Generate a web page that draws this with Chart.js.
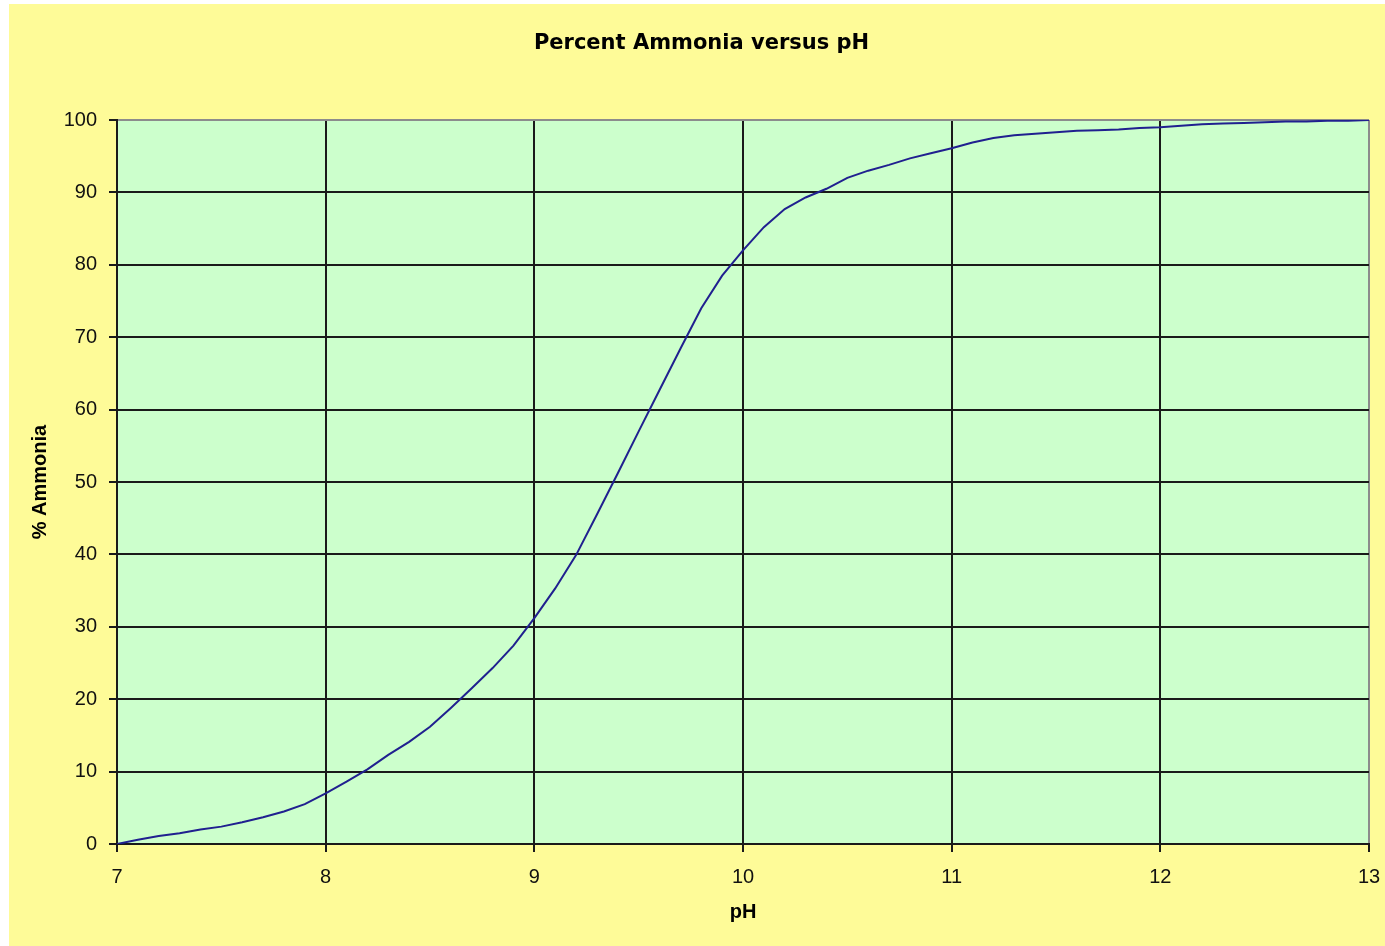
<!DOCTYPE html>
<html>
<head>
<meta charset="utf-8">
<title>Percent Ammonia versus pH</title>
<script src="https://cdn.jsdelivr.net/npm/chart.js@4/dist/chart.umd.min.js"></script>
<style>
  html, body { margin: 0; padding: 0; background: #ffffff; overflow: hidden; }
  #frame {
    position: absolute; left: 9px; top: 4px;
    width: 1376px; height: 942px;
    background: #FEFB98;
    overflow: hidden;
  }
  #chart { display: block; }
</style>
</head>
<body>
<div id="frame"><canvas id="chart" width="1400" height="942"></canvas></div>
<script>
// pH values along the x axis
const phValues = [
  7.0, 7.1, 7.2, 7.3, 7.4, 7.5, 7.6, 7.7, 7.8, 7.9,
  8.0, 8.1, 8.2, 8.3, 8.4, 8.5, 8.6, 8.7, 8.8, 8.9,
  9.0, 9.1, 9.2, 9.3, 9.4, 9.5, 9.6, 9.7, 9.8, 9.9,
  10.0, 10.1, 10.2, 10.3, 10.4, 10.5, 10.6, 10.7, 10.8, 10.9,
  11.0, 11.1, 11.2, 11.3, 11.4, 11.5, 11.6, 11.7, 11.8, 11.9,
  12.0, 12.1, 12.2, 12.3, 12.4, 12.5, 12.6, 12.7, 12.8, 12.9,
  13.0
];

// Percent of total ammonia present as free ammonia at each pH
const percentAmmonia = [
  0.0, 0.6, 1.1, 1.5, 2.0, 2.4, 3.0, 3.7, 4.5, 5.5,
  7.0, 8.6, 10.3, 12.3, 14.1, 16.2, 18.8, 21.5, 24.3, 27.4,
  31.2, 35.3, 39.9, 45.5, 51.2, 57.0, 62.7, 68.4, 74.0, 78.5,
  82.0, 85.2, 87.7, 89.3, 90.5, 92.0, 93.0, 93.8, 94.7, 95.4,
  96.1, 96.9, 97.5, 97.9, 98.1, 98.3, 98.5, 98.6, 98.7, 98.9,
  99.0, 99.2, 99.4, 99.5, 99.6, 99.7, 99.8, 99.8, 99.9, 99.9,
  100.0
];

// Axis ranges and tick steps
const xRange = [7, 13];
const yRange = [0, 100];
const xStep = 1;
const yStep = 10;

const points = phValues.map((ph, i) => ({ x: ph, y: percentAmmonia[i] }));

// Pale green plot area
const plotBackground = {
  id: 'plotBackground',
  beforeDraw(chart) {
    const { ctx, chartArea: a } = chart;
    ctx.save();
    ctx.fillStyle = '#CCFFCC';
    ctx.fillRect(a.left, a.top, a.right - a.left, a.bottom - a.top);
    ctx.restore();
  }
};

const tickFont = { family: '"Liberation Sans", Arial, sans-serif', size: 20 };
const axisTitleFont = { family: '"Liberation Sans", Arial, sans-serif', size: 20, weight: 'bold' };

new Chart(document.getElementById('chart'), {
  type: 'line',
  data: {
    datasets: [{
      label: '% Ammonia',
      data: points,
      borderColor: '#20208F',
      borderWidth: 2,
      pointRadius: 0,
      tension: 0,
      fill: false
    }]
  },
  options: {
    responsive: false,
    animation: false,
    events: [],
    layout: { padding: { left: 25, right: 40, top: 0, bottom: 0 } },
    plugins: {
      legend: { display: false },
      tooltip: { enabled: false },
      title: {
        display: true,
        text: 'Percent Ammonia versus pH',
        color: '#000',
        font: { family: '"DejaVu Sans", Verdana, sans-serif', size: 21, weight: 'bold' },
        padding: { top: 27.4, bottom: 63.4 }
      }
    },
    scales: {
      x: {
        type: 'linear',
        min: xRange[0],
        max: xRange[1],
        afterFit(scale) { scale.height = 102; },
        ticks: { stepSize: xStep, color: '#111', font: tickFont, padding: 13, maxRotation: 0 },
        grid: {
          color: (c) => (c.tick && c.tick.value === xRange[1]) ? '#8C8C8C' : '#1A1A1A',
          lineWidth: 2,
          tickColor: '#1A1A1A',
          tickLength: 8
        },
        border: { color: '#1A1A1A', width: 2 },
        title: {
          display: true, text: 'pH', color: '#000', font: axisTitleFont,
          padding: { top: 0, bottom: 22 }
        }
      },
      y: {
        type: 'linear',
        min: yRange[0],
        max: yRange[1],
        afterFit(scale) { scale.width = 83; },
        ticks: { stepSize: yStep, color: '#111', font: tickFont, padding: 12 },
        grid: {
          color: (c) => (c.tick && c.tick.value === yRange[1]) ? '#8C8C8C' : '#1A1A1A',
          lineWidth: 2,
          tickColor: '#1A1A1A',
          tickLength: 8
        },
        border: { color: '#1A1A1A', width: 2 },
        title: {
          display: true, text: '% Ammonia', color: '#000', font: axisTitleFont,
          padding: { top: -6, bottom: 0 }
        }
      }
    }
  },
  plugins: [plotBackground]
});
</script>
</body>
</html>
